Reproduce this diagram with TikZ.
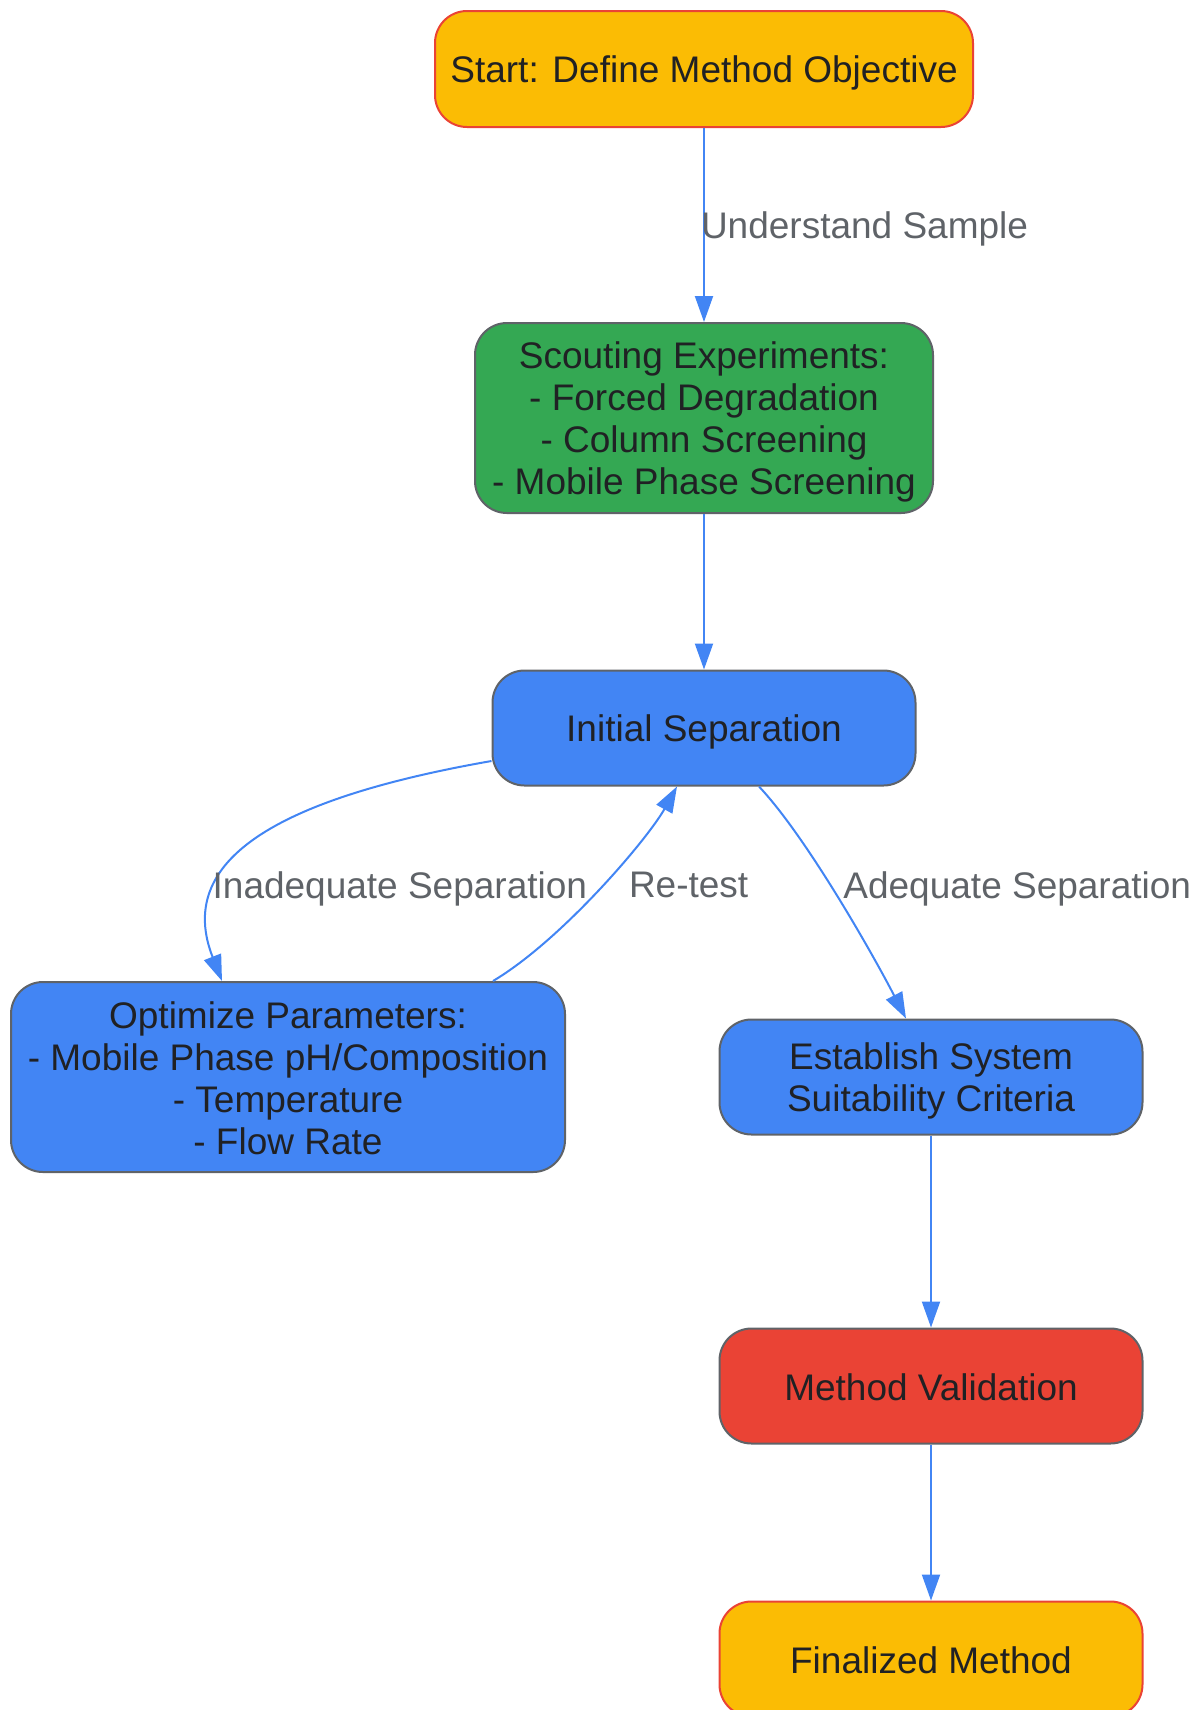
\documentclass[tikz,border=0pt]{standalone}
\usepackage{fontspec}
\setmainfont{Liberation Sans}
\usetikzlibrary{arrows.meta}
\definecolor{gyellow}{HTML}{FBBC04}
\definecolor{ggreen}{HTML}{34A853}
\definecolor{gblue}{HTML}{4285F4}
\definecolor{gred}{HTML}{EA4335}
\definecolor{ggrey}{HTML}{5F6368}
\definecolor{ink}{HTML}{202124}
\newcommand{\nodetop}{\rule{0pt}{17.4pt}}

\begin{document}
\begin{tikzpicture}[x=0.5pt,y=0.5pt,
  lines/.style={font=\fontsize{18.5}{21}\selectfont,
    execute at begin node={\nodetop}, execute at end node={\rule[-3pt]{0pt}{0pt}}},
  box/.style={lines, draw=ggrey, line width=1pt, rounded corners=16pt, align=center, text=ink,
    inner sep=0pt, minimum width=211.5pt, minimum height=57.5pt},
  term/.style={box, fill=gyellow, draw=gred},
  flow/.style={draw=gblue, line width=1pt, -{Triangle[length=13pt,width=9pt]}},
  elabel/.style={lines, text=ggrey, inner sep=0pt}]
  \useasboundingbox (0,0) rectangle (1201,-1710);

  \node[term, minimum width=269pt, minimum height=58pt] (S) at (704,-69) {Start: Define Method Objective};
  \node[box, fill=ggreen, minimum width=229pt, minimum height=95pt, node distance=174.5pt, below of=S] (SE)
    {\nodetop Scouting Experiments:\\- Forced Degradation\\- Column Screening\\- Mobile Phase Screening};
  \node[box, fill=gblue, node distance=155pt, below of=SE] (IS) {Initial Separation};
  \node[box, fill=gblue, minimum width=277pt, minimum height=95pt] (OP) at (288,-1077)
    {\nodetop Optimize Parameters:\\- Mobile Phase pH/Composition\\- Temperature\\- Flow Rate};
  \node[box, fill=gblue] (SSC) at (931,-1077) {\nodetop Establish System\\Suitability Criteria};
  \node[box, fill=gred, node distance=154.5pt, below of=SSC] (MV) {Method Validation};
  \node[term, node distance=136.5pt, below of=MV] (FM) {Finalized Method};

  % connectors
  \draw[flow] (S) -- node[elabel, anchor=west, xshift=-2pt] (US) {Understand Sample} (SE);
  \draw[flow] (SE) -- (IS);
  \draw[flow] ([yshift=-16.5pt]IS.west) .. controls +(-217,-38) and +(-47,120) .. ([xshift=-33pt]OP.north)
    node[elabel, pos=0.69, anchor=west, xshift=-4pt] (IAS) {Inadequate Separation};
  \draw[flow] ([xshift=102.5pt]OP.north) .. controls +(69,41) and +(-29,-52) .. ([xshift=-13.5pt]IS.south)
    node[elabel, pos=0.5, anchor=west, xshift=14pt, yshift=2.4pt] (RT) {Re-test};
  \draw[flow] ([xshift=27.5pt]IS.south) .. controls +(48,-51) and +(-32,62) .. ([xshift=-12.5pt]SSC.north)
    node[elabel, pos=0.45, anchor=west, xshift=6pt] (AS) {Adequate Separation};
  \draw[flow] (SSC) -- (MV);
  \draw[flow] (MV) -- (FM);
\end{tikzpicture}
\end{document}
